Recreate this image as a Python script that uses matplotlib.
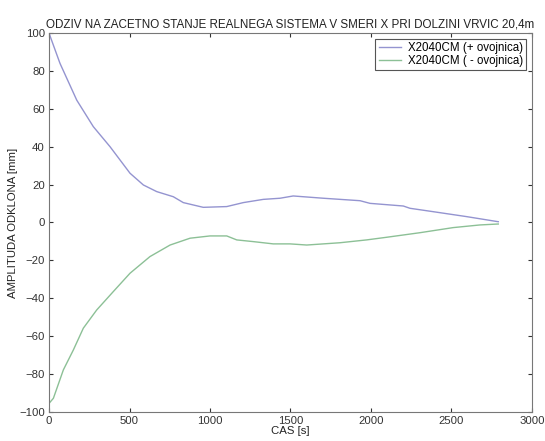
import matplotlib
matplotlib.use("Agg")
import matplotlib.pyplot as plt

# odziv na zacetno stanje - ovojnici (odcitano s slike)
cas_plus = [0, 6, 68, 172, 275, 379, 503, 586, 669, 772, 834, 958, 1104, 1207, 1331,
            1435, 1517, 1704, 1932, 1994, 2201, 2242, 2387, 2594, 2791]
odklon_plus = [100, 98.5, 84, 64.6, 50.6, 40, 26, 19.8, 16.3, 13.6, 10.5, 8, 8.4, 10.5, 12.2,
               12.8, 14.0, 12.8, 11.5, 10.1, 8.7, 7.5, 5.7, 3.1, 0.4]

cas_minus = [0, 27, 89, 151, 213, 296, 399, 503, 627, 752, 876, 1000, 1104, 1166, 1269,
             1393, 1497, 1601, 1807, 1973, 2098, 2304, 2511, 2677, 2791]
odklon_minus = [-95.5, -92.8, -77.8, -67.3, -55.8, -46.2, -36.5, -26.8, -18, -11.9, -8.3,
                -7.1, -7.1, -9.2, -10.1, -11.3, -11.3, -11.9, -10.7, -9.2, -7.8, -5.4,
                -2.7, -1.3, -0.8]

plt.rcParams['font.family'] = ['Liberation Sans', 'DejaVu Sans']
plt.rcParams['font.size'] = 8.2

fig = plt.figure(figsize=(5.45, 4.41), dpi=100)
ax = fig.add_axes([0.09, 0.066, 0.886, 0.859])

ax.plot(cas_plus, odklon_plus, color='#9494d0', lw=1.0, label='X2040CM (+ ovojnica)')
ax.plot(cas_minus, odklon_minus, color='#8cc096', lw=1.0, label='X2040CM ( - ovojnica)')

ax.set_xlim(0, 3000)
ax.set_ylim(-100, 100)
ax.set_xticks(range(0, 3001, 500))
ax.set_yticks(range(-100, 101, 20))
ax.tick_params(direction='in', top=True, right=True, length=3, colors='#333333',
               labelsize=8.2, pad=3)
for s in ax.spines.values():
    s.set_color('#777777')
    s.set_linewidth(0.8)

ax.set_title('ODZIV NA ZACETNO STANJE REALNEGA SISTEMA V SMERI X PRI DOLZINI VRVIC 20,4m',
             fontsize=8.4, color='#222222', pad=4)
ax.set_xlabel('CAS [s]', fontsize=8.2, color='#222222', labelpad=0)
ax.set_ylabel('AMPLITUDA ODKLONA [mm]', fontsize=8.2, color='#222222', labelpad=1)

leg = ax.legend(loc='upper right', fontsize=8.3, fancybox=False, framealpha=1,
                borderaxespad=0.5, handlelength=1.9, borderpad=0.3, labelspacing=0.05,
                handletextpad=0.6)
leg.get_frame().set_edgecolor('#555555')
leg.get_frame().set_linewidth(0.8)

fig.savefig('out.png', dpi=100)
